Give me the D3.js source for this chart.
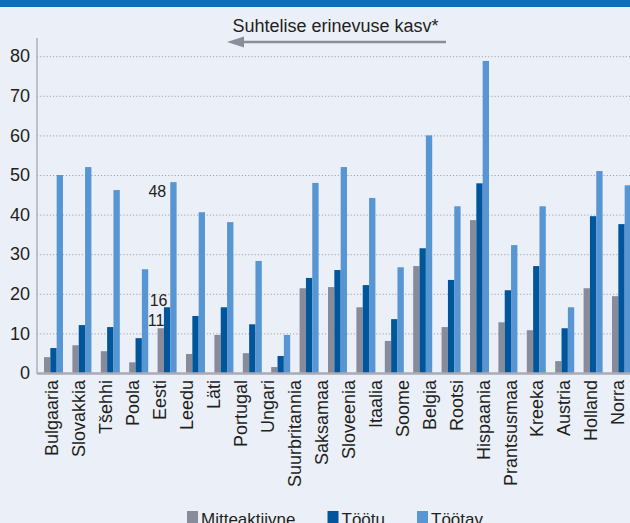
<!DOCTYPE html>
<html>
<head>
<meta charset="utf-8">
<script src="https://cdn.jsdelivr.net/npm/d3@7"></script>
<style>
  html, body { margin: 0; padding: 0; background: #ebeff8; }
  svg { display: block; font-family: "Liberation Sans", Arial, sans-serif; }
</style>
</head>
<body>
<svg id="chart" width="630" height="523"></svg>
<script>
// ---- data ----
const categories = ["Bulgaaria","Slovakkia","Tšehhi","Poola","Eesti","Leedu","Läti","Portugal","Ungari",
  "Suurbritannia","Saksamaa","Sloveenia","Itaalia","Soome","Belgia","Rootsi","Hispaania",
  "Prantsusmaa","Kreeka","Austria","Holland","Norra"];
// the reference shows 21 bar groups under 22 labels; one label carries no bars (null)
const mitteaktiivne = [4.0, 7.0, 5.5, 2.7, 11.3, 4.8, 9.6, 5.0, 1.5, null, 21.4, 21.7, 16.6, 8.1, 27.0, 11.6, 38.6, 12.8, 10.8, 3.0, 21.4, 19.4];
const tootu         = [6.3, 12.1, 11.6, 8.8, 16.6, 14.4, 16.6, 12.3, 4.3, null, 24.0, 26.0, 22.2, 13.6, 31.5, 23.5, 47.9, 20.9, 27.0, 11.3, 39.6, 37.6];
const tootav        = [50.0, 52.0, 46.2, 26.2, 48.2, 40.6, 38.1, 28.3, 9.6, null, 48.0, 52.0, 44.2, 26.7, 60.0, 42.1, 78.8, 32.3, 42.1, 16.6, 51.0, 47.4];
const seriesNames = ["Mitteaktiivne", "Töötu", "Töötav"];
const yTicks = [0, 10, 20, 30, 40, 50, 60, 70, 80];
const annotated = "Eesti";
const annotationLabels = ["11", "16", "48"];
const arrowLabel = "Suhtelise erinevuse kasv*";

const colors = ["#878b9a", "#00569b", "#5796d2"];

const svg = d3.select("#chart");
const W = 630, H = 523;
svg.append("rect").attr("width", W).attr("height", H).attr("fill", "#ebeff8");
svg.append("rect").attr("width", W).attr("height", 7).attr("fill", "#0a6fbd");

const plotLeft = 37, plotRight = 630, y0 = 373, yTop = 56.2;

const y = d3.scaleLinear().domain([0, 80]).range([y0, yTop]);

// gridlines
const grid = svg.append("g").attr("transform", `translate(${plotLeft},0)`)
  .call(d3.axisLeft(y).tickValues(yTicks.filter(d => d > 0)).tickSize(-(plotRight - plotLeft)).tickFormat(""));
grid.select(".domain").remove();
grid.selectAll(".tick line").attr("stroke", "#a3a5ae").attr("stroke-width", 1).attr("stroke-dasharray", "1.2,2");

// y axis labels
const yAxis = svg.append("g").attr("transform", `translate(${plotLeft},0)`)
  .call(d3.axisLeft(y).tickValues(yTicks).tickSize(0).tickPadding(7));
yAxis.select(".domain").remove();
yAxis.selectAll("text").attr("font-size", 18).attr("fill", "#231f20")
  .attr("font-family", "'Liberation Sans', Arial, sans-serif");

// bars
const rows = categories.map((c, i) => ({ c, v: [mitteaktiivne[i], tootu[i], tootav[i]] }))
  .filter(r => r.v[0] !== null);
const xBar = d3.scaleBand().domain(rows.map(r => r.c)).range([44, 631]).paddingInner(0.331).paddingOuter(0);
const x1 = d3.scaleBand().domain(seriesNames).range([0, xBar.bandwidth()]);

const groups = svg.append("g").selectAll("g").data(rows).join("g")
  .attr("transform", r => `translate(${xBar(r.c)},0)`);
groups.selectAll("rect").data(r => r.v.map((v, k) => ({ k, v }))).join("rect")
  .attr("x", d => x1(seriesNames[d.k]))
  .attr("width", x1.bandwidth())
  .attr("y", d => y(d.v))
  .attr("height", d => y0 - y(d.v))
  .attr("fill", d => colors[d.k]);

// annotation on Eesti
const er = rows.find(r => r.c === annotated);
const ex = xBar(annotated);
const ann = svg.append("g").attr("font-size", 16).attr("fill", "#231f20").attr("text-anchor", "end");
ann.append("text").attr("x", ex + x1(seriesNames[0]) + x1.bandwidth() + 0.5).attr("y", y(er.v[0]) - 2).text(annotationLabels[0]);
ann.append("text").attr("x", ex + x1(seriesNames[1]) + 3.5).attr("y", y(er.v[1]) - 1).text(annotationLabels[1]);
ann.append("text").attr("x", ex + x1(seriesNames[2]) - 4).attr("y", y(er.v[2]) + 15).text(annotationLabels[2]);

// axes lines
svg.append("line").attr("x1", plotLeft).attr("x2", plotLeft).attr("y1", 38).attr("y2", y0 + 1)
  .attr("stroke", "#b0b1ba").attr("stroke-width", 1.5);
svg.append("line").attr("x1", plotLeft).attr("x2", plotRight).attr("y1", y0 + 0.5).attr("y2", y0 + 0.5)
  .attr("stroke", "#aaabb4").attr("stroke-width", 2.7);

// x labels
const xLabel = d3.scalePoint().domain(categories).range([52, 618]);
svg.append("g").selectAll("text").data(categories).join("text")
  .attr("transform", d => `translate(${xLabel(d)},380) rotate(-90)`)
  .attr("text-anchor", "end").attr("dy", "0.35em")
  .attr("font-size", 18).attr("fill", "#231f20")
  .text(d => d);

// arrow + title
svg.append("text").attr("x", 335.5).attr("y", 32).attr("text-anchor", "middle")
  .attr("font-size", 18).attr("fill", "#231f20").text(arrowLabel);
svg.append("line").attr("x1", 446).attr("x2", 240).attr("y1", 42).attr("y2", 42)
  .attr("stroke", "#8a8e9c").attr("stroke-width", 2.5);
svg.append("path").attr("d", "M227,42 L244,36.5 L244,47.5 Z").attr("fill", "#8a8e9c");

// legend
const leg = svg.append("g").attr("font-size", 17).attr("fill", "#231f20");
let lx = 0;
seriesNames.forEach((n, k) => {
  const g = leg.append("g");
  g.append("rect").attr("y", 511).attr("width", 11).attr("height", 12).attr("fill", colors[k]);
  const t = g.append("text").attr("x", 14).attr("y", 524.5).text(n);
  const w = 14 + t.node().getComputedTextLength();
  g.attr("transform", `translate(${lx},0)`);
  lx += w + 32;
});
const total = lx - 32;
leg.attr("transform", `translate(${335 - total / 2},0)`);
</script>
</body>
</html>
